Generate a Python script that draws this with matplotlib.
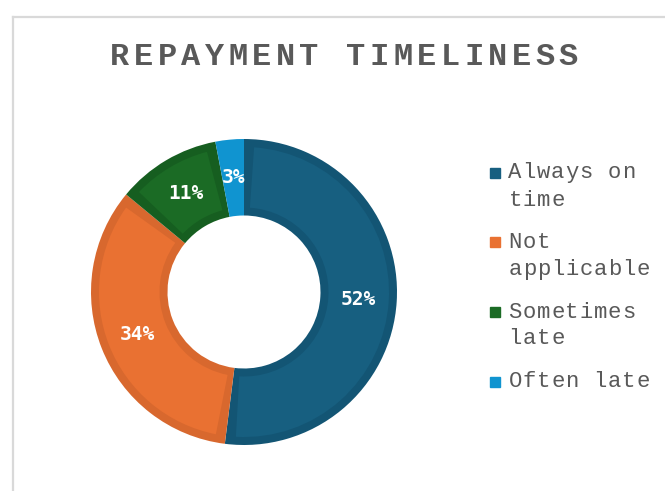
import numpy as np
import matplotlib.pyplot as plt
from matplotlib.lines import Line2D
from matplotlib.patches import Wedge

# datos del grafico
categorias = ["Always on\ntime", "Not\napplicable", "Sometimes\nlate", "Often late"]
porcentajes = [52, 34, 11, 3]
colores = ["#175F80", "#E97132", "#1B6B25", "#1094D0"]
bordes = ["#135574", "#D8682E", "#165E20", "#1094D0"]
titulo = "REPAYMENT TIMELINESS"

fig = plt.figure(figsize=(6.65, 4.91), dpi=100)
W, H = 665, 491

# marco gris del area del grafico
fig.add_artist(Line2D([13 / W, 13 / W], [0, 1 - 17 / H], color="#D9D9D9", lw=1.6))
fig.add_artist(Line2D([13 / W, 1], [1 - 17 / H, 1 - 17 / H], color="#D9D9D9", lw=1.6))

# titulo, letra por letra para imitar el espaciado
paso = 23.6
x0 = 108 + paso / 2
for i, c in enumerate(titulo):
    fig.text((x0 + i * paso) / W, 1 - 57 / H, c, ha="center", va="center",
             fontsize=23, fontweight="bold", color="#595959", family="Liberation Mono")

# dona
cx, cy, r = 244, 292, 153
ax = fig.add_axes([(cx - r) / W, (H - cy - r) / H, 2 * r / W, 2 * r / H])
wedges, textos = ax.pie(porcentajes, colors=bordes, startangle=90, counterclock=False,
                        radius=1, wedgeprops=dict(width=0.5, linewidth=0))

# relleno interior mas claro (borde oscuro de cada porcion)
d = 8 / r
for w, col in zip(wedges, colores):
    rm = 0.75
    da = np.rad2deg(d / rm)
    ax.add_patch(Wedge((0, 0), 1 - d, w.theta1 + da, w.theta2 - da, width=0.5 - 2 * d,
                       facecolor=col, linewidth=0))

for w, p in zip(wedges, porcentajes):
    ang = np.deg2rad((w.theta1 + w.theta2) / 2)
    ax.text(0.75 * np.cos(ang), 0.75 * np.sin(ang), f"{p}%", ha="center", va="center",
            color="white", fontsize=14, fontweight="bold", family="DejaVu Sans Mono")
ax.set_xlim(-1, 1)
ax.set_ylim(-1, 1)
ax.set_aspect("equal")
ax.axis("off")

# leyenda manual
y_ini = 173
paso_ley = 14.2
for i, (cat, col) in enumerate(zip(categorias, colores)):
    y = y_ini + i * 69.5
    fig.patches.append(plt.Rectangle((490 / W, 1 - (y + 5) / H), 10 / W, 10 / H,
                                     transform=fig.transFigure, color=col, figure=fig))
    for j, linea in enumerate(cat.split("\n")):
        for k, c in enumerate(linea):
            fig.text((508 + paso_ley / 2 + k * paso_ley) / W, 1 - (y + j * 27) / H, c,
                     ha="center", va="center", fontsize=16, color="#595959",
                     family="Liberation Mono")

fig.savefig("out.png", dpi=100)
